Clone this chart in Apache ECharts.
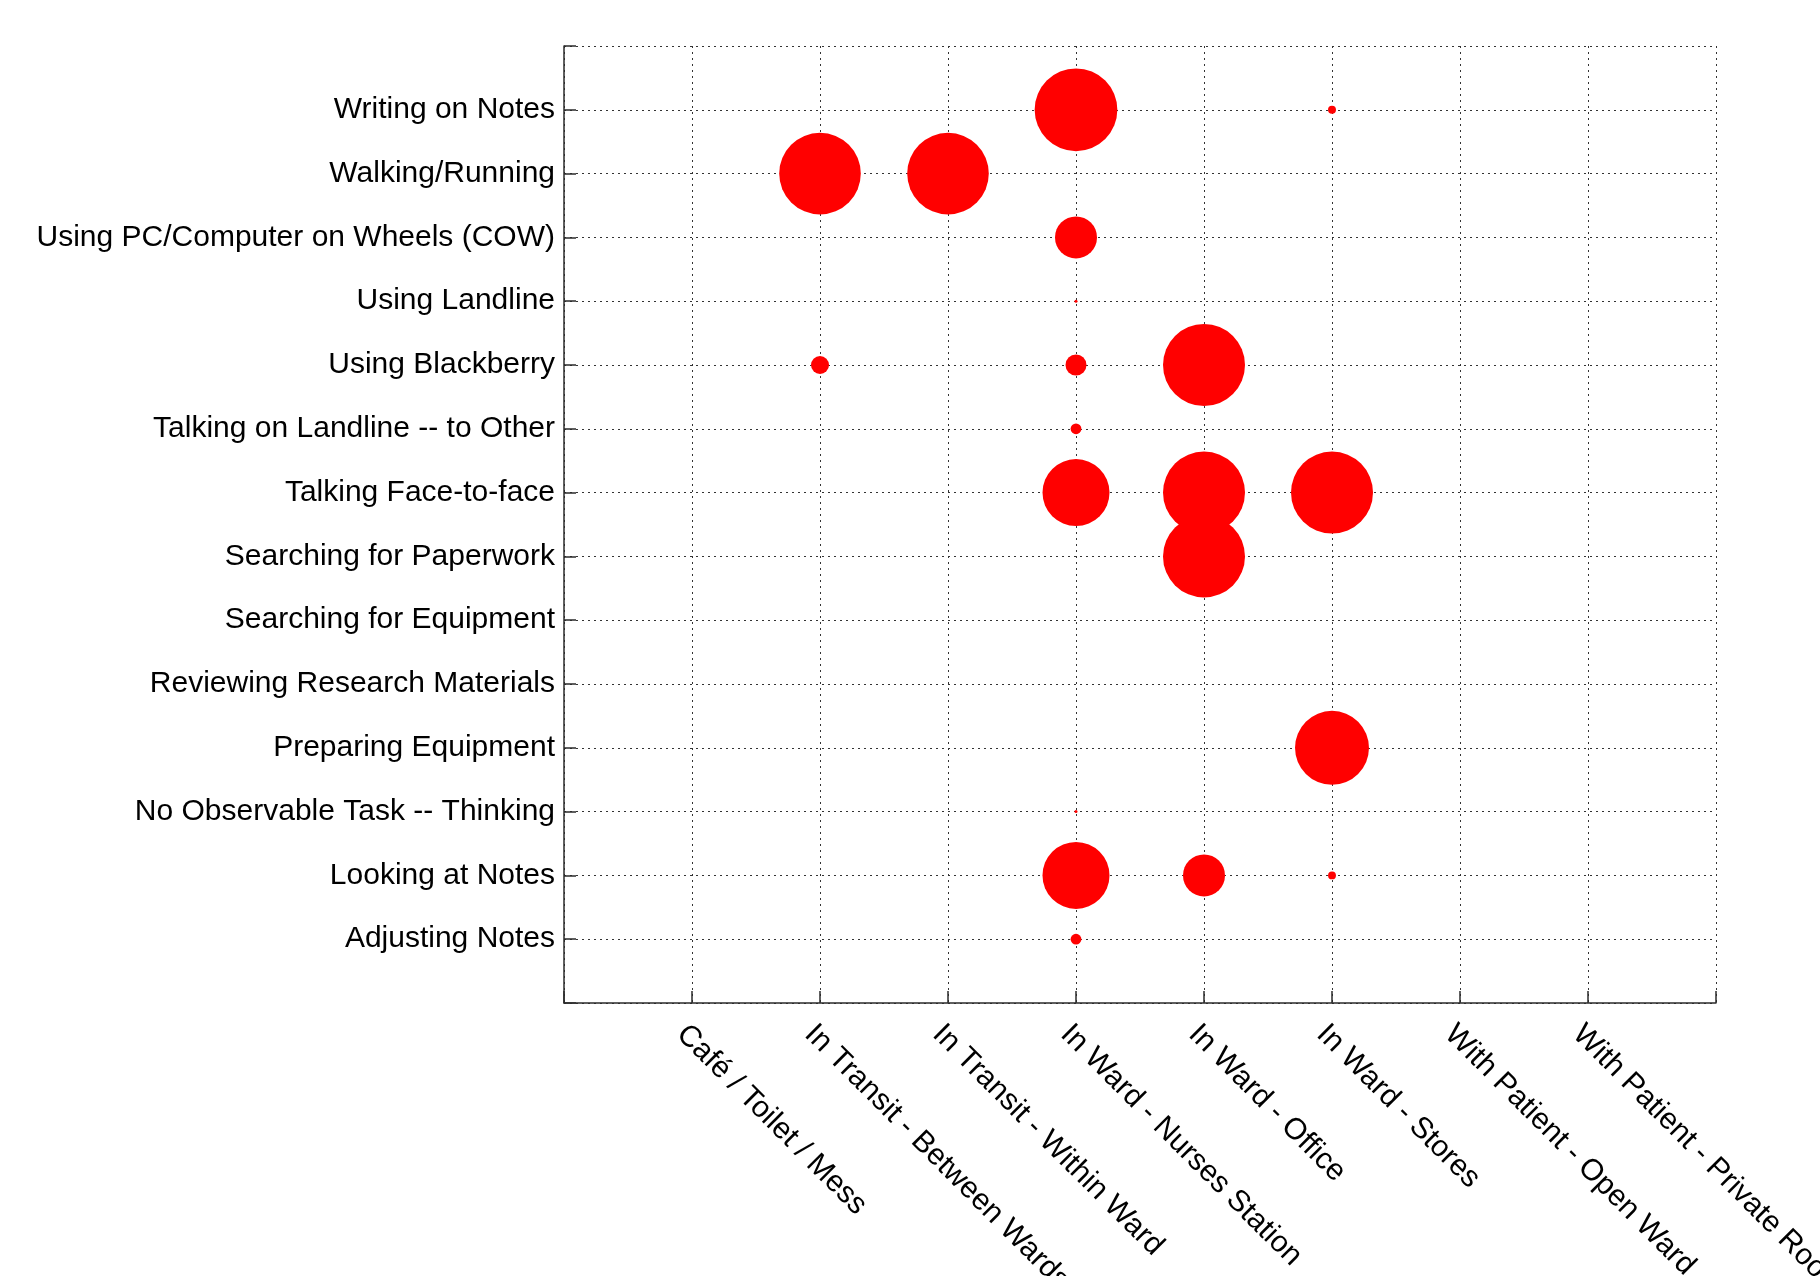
<!DOCTYPE html>
<html>
<head>
<meta charset="utf-8">
<title>Activities by location</title>
<script src="https://cdn.jsdelivr.net/npm/echarts@6/dist/echarts.min.js"></script>
<style>
  html, body { margin: 0; padding: 0; background: #fff; }
  #chart { width: 1820px; height: 1276px; }
</style>
</head>
<body>
<div id="chart"></div>
<script>
// Locations along the x axis (positions 1..8)
const locations = [
  'Café / Toilet / Mess',
  'In Transit - Between Wards',
  'In Transit - Within Ward',
  'In Ward - Nurses Station',
  'In Ward - Office',
  'In Ward - Stores',
  'With Patient - Open Ward',
  'With Patient - Private Room'
];

// Activities, listed top to bottom
const activities = [
  'Writing on Notes',
  'Walking/Running',
  'Using PC/Computer on Wheels (COW)',
  'Using Landline',
  'Using Blackberry',
  'Talking on Landline -- to Other',
  'Talking Face-to-face',
  'Searching for Paperwork',
  'Searching for Equipment',
  'Reviewing Research Materials',
  'Preparing Equipment',
  'No Observable Task -- Thinking',
  'Looking at Notes',
  'Adjusting Notes'
];

// Observed amount per activity/location: [activity, location, amount]
const observations = [
  ['Writing on Notes', 'In Ward - Nurses Station', 760],
  ['Writing on Notes', 'In Ward - Stores', 7],
  ['Walking/Running', 'In Transit - Between Wards', 740],
  ['Walking/Running', 'In Transit - Within Ward', 740],
  ['Using PC/Computer on Wheels (COW)', 'In Ward - Nurses Station', 196],
  ['Using Landline', 'In Ward - Nurses Station', 1],
  ['Using Blackberry', 'In Transit - Between Wards', 36],
  ['Using Blackberry', 'In Ward - Nurses Station', 49],
  ['Using Blackberry', 'In Ward - Office', 747],
  ['Talking on Landline -- to Other', 'In Ward - Nurses Station', 13],
  ['Talking Face-to-face', 'In Ward - Nurses Station', 499],
  ['Talking Face-to-face', 'In Ward - Office', 747],
  ['Talking Face-to-face', 'In Ward - Stores', 747],
  ['Searching for Paperwork', 'In Ward - Office', 747],
  ['Preparing Equipment', 'In Ward - Stores', 608],
  ['No Observable Task -- Thinking', 'In Ward - Nurses Station', 1],
  ['Looking at Notes', 'In Ward - Nurses Station', 499],
  ['Looking at Notes', 'In Ward - Office', 196],
  ['Looking at Notes', 'In Ward - Stores', 7],
  ['Adjusting Notes', 'In Ward - Nurses Station', 13]
];

const nAct = activities.length;
const nLoc = locations.length;
const xPos = name => locations.indexOf(name) + 1;
const yPos = name => nAct - activities.indexOf(name);

const points = observations.map(o => [xPos(o[1]), yPos(o[0]), o[2]]);

const labelFont = { fontFamily: '"Liberation Sans", Arial, sans-serif', fontSize: 30, color: '#000' };
const axisColor = '#2b2b2b';
const gridDots = { type: [2, 4], width: 1, color: '#333' };

const chart = echarts.init(document.getElementById('chart'), null, { renderer: 'canvas' });
chart.setOption({
  animation: false,
  backgroundColor: '#fff',
  grid: {
    left: 564, right: 104, top: 46, bottom: 273,
    containLabel: false,
    outerBoundsMode: 'none'
  },
  xAxis: {
    type: 'value',
    min: 0,
    max: nLoc + 1,
    interval: 1,
    axisLine: { show: true, onZero: false, lineStyle: { color: axisColor, width: 1.5 } },
    axisTick: { show: true, inside: true, length: 12, lineStyle: { color: axisColor, width: 1.5 } },
    splitLine: { show: true, lineStyle: gridDots },
    axisLabel: Object.assign({
      rotate: -45,
      margin: 16,
      verticalAlign: 'top',
      formatter: v => locations[v - 1] || ''
    }, labelFont)
  },
  yAxis: {
    type: 'value',
    min: 0,
    max: nAct + 1,
    interval: 1,
    axisLine: { show: true, onZero: false, lineStyle: { color: axisColor, width: 1.5 } },
    axisTick: { show: true, inside: true, length: 12, lineStyle: { color: axisColor, width: 1.5 } },
    splitLine: { show: true, lineStyle: gridDots },
    axisLabel: Object.assign({
      margin: 9,
      formatter: v => activities[nAct - v] || ''
    }, labelFont)
  },
  series: [{
    type: 'scatter',
    data: points,
    symbol: 'circle',
    symbolSize: d => 3 * Math.sqrt(d[2]),
    itemStyle: { color: '#ff0000', opacity: 1 },
    emphasis: { disabled: true }
  }]
});
</script>
</body>
</html>
